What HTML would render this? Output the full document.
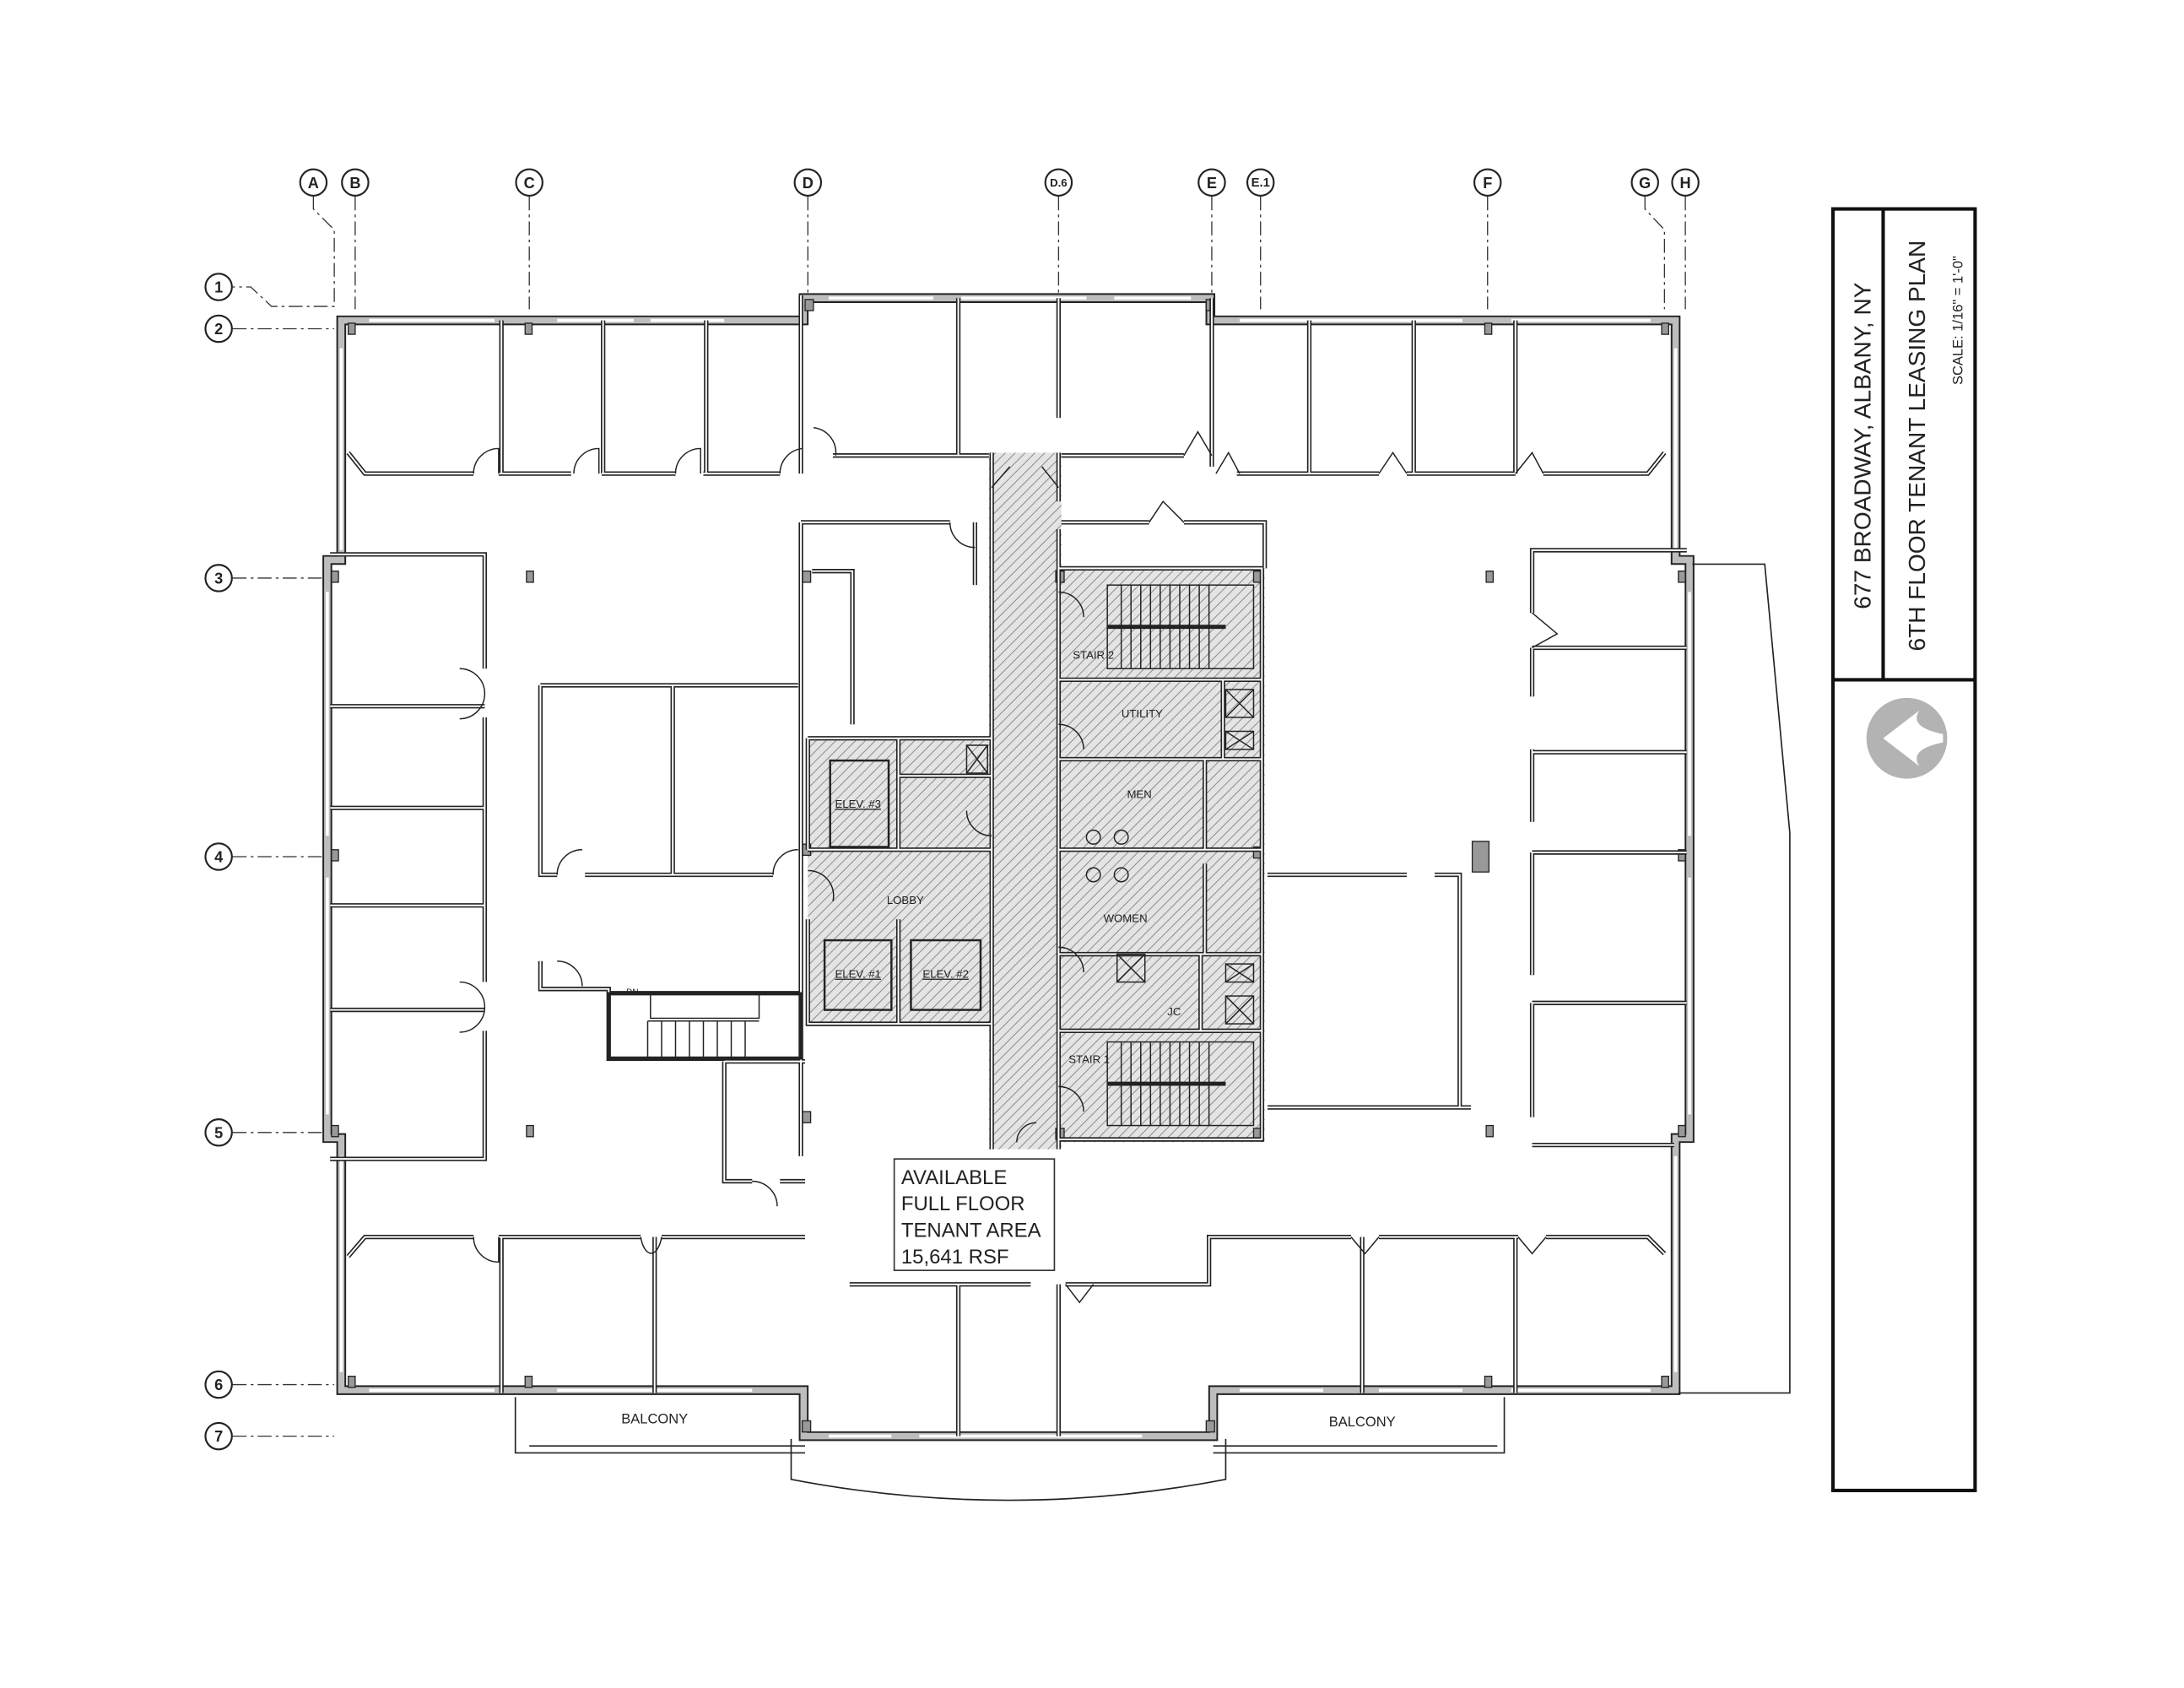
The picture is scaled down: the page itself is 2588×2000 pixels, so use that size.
<!DOCTYPE html>
<html><head><meta charset="utf-8"><style>
html,body{margin:0;padding:0;background:#fff}
svg{display:block}
text{font-family:"Liberation Sans",sans-serif;fill:#222}
</style></head><body>
<svg width="2588" height="2000" viewBox="0 0 1568 1211.8" preserveAspectRatio="none" xmlns="http://www.w3.org/2000/svg">
<defs>
<pattern id="h" patternUnits="userSpaceOnUse" width="5" height="5" patternTransform="rotate(45)">
<rect width="5" height="5" fill="#e4e4e4"/><line x1="0" y1="0" x2="0" y2="5" stroke="#8a8a8a" stroke-width="1.2"/>
</pattern>
</defs>
<rect width="1568" height="1212" fill="#fff"/>

<g fill="url(#h)" stroke="none">
<rect x="710" y="325" width="52" height="500"/>
<rect x="758" y="408" width="150" height="412"/>
<rect x="580" y="530" width="132" height="205"/>
</g>

<g stroke="#333" stroke-width="0.8" stroke-dasharray="10,3,2,3" fill="none">
<path d="M225,141 V150 L240,165 V220 H195 L180,206 H167"/>
<line x1="255" y1="141" x2="255" y2="222"/>
<line x1="380" y1="141" x2="380" y2="222"/>
<line x1="580" y1="141" x2="580" y2="210"/>
<line x1="760" y1="141" x2="760" y2="300"/>
<line x1="870" y1="141" x2="870" y2="210"/>
<line x1="905" y1="141" x2="905" y2="222"/>
<line x1="1068" y1="141" x2="1068" y2="222"/>
<path d="M1181,141 V150 L1195,165 V222"/>
<line x1="1210" y1="141" x2="1210" y2="222"/>
<line x1="167" y1="236" x2="240" y2="236"/>
<line x1="167" y1="415" x2="232" y2="415"/>
<line x1="167" y1="615" x2="232" y2="615"/>
<line x1="167" y1="813" x2="232" y2="813"/>
<line x1="167" y1="994" x2="240" y2="994"/>
<line x1="167" y1="1031" x2="240" y2="1031"/>
</g>
<g fill="#fff" stroke="#222" stroke-width="1.3">
<circle cx="225" cy="131" r="9.5"/><circle cx="255" cy="131" r="9.5"/><circle cx="380" cy="131" r="9.5"/>
<circle cx="580" cy="131" r="9.5"/><circle cx="760" cy="131" r="9.5"/><circle cx="870" cy="131" r="9.5"/>
<circle cx="905" cy="131" r="9.5"/><circle cx="1068" cy="131" r="9.5"/><circle cx="1181" cy="131" r="9.5"/>
<circle cx="1210" cy="131" r="9.5"/>
<circle cx="157" cy="206" r="9.5"/><circle cx="157" cy="236" r="9.5"/><circle cx="157" cy="415" r="9.5"/>
<circle cx="157" cy="615" r="9.5"/><circle cx="157" cy="813" r="9.5"/><circle cx="157" cy="994" r="9.5"/>
<circle cx="157" cy="1031" r="9.5"/>
</g>
<g font-size="11" font-weight="bold" text-anchor="middle">
<text x="225" y="135">A</text><text x="255" y="135">B</text><text x="380" y="135">C</text>
<text x="580" y="135">D</text><text x="760" y="134" font-size="8">D.6</text><text x="870" y="135">E</text>
<text x="905" y="134" font-size="9">E.1</text><text x="1068" y="135">F</text><text x="1181" y="135">G</text>
<text x="1210" y="135">H</text>
<text x="157" y="210">1</text><text x="157" y="240">2</text><text x="157" y="419">3</text>
<text x="157" y="619">4</text><text x="157" y="817">5</text><text x="157" y="998">6</text><text x="157" y="1035">7</text>
</g>

<path d="M245,230 H577 V214 H869 V230 H1203 V402 H1213 V817 H1203 V998 H871 V1031 H577 V998 H245 V817 H235 V402 H245 Z" fill="none" stroke="#222" stroke-width="7" stroke-linejoin="miter"/>
<path d="M245,230 H577 V214 H869 V230 H1203 V402 H1213 V817 H1203 V998 H871 V1031 H577 V998 H245 V817 H235 V402 H245 Z" fill="none" stroke="#bdbdbd" stroke-width="4.6"/>
<g stroke="#fff" stroke-width="2.2" fill="none">
<line x1="265" y1="230" x2="355" y2="230"/><line x1="400" y1="230" x2="455" y2="230"/><line x1="467" y1="230" x2="520" y2="230"/>
<line x1="595" y1="214" x2="670" y2="214"/><line x1="690" y1="214" x2="780" y2="214"/><line x1="800" y1="214" x2="855" y2="214"/>
<line x1="890" y1="230" x2="1050" y2="230"/><line x1="1085" y1="230" x2="1185" y2="230"/>
<line x1="245" y1="250" x2="245" y2="395"/><line x1="235" y1="425" x2="235" y2="600"/><line x1="235" y1="630" x2="235" y2="800"/>
<line x1="245" y1="830" x2="245" y2="985"/>
<line x1="1203" y1="250" x2="1203" y2="395"/><line x1="1213" y1="425" x2="1213" y2="600"/><line x1="1213" y1="630" x2="1213" y2="800"/>
<line x1="1203" y1="830" x2="1203" y2="985"/>
<line x1="265" y1="998" x2="355" y2="998"/><line x1="400" y1="998" x2="540" y2="998"/>
<line x1="595" y1="1031" x2="640" y2="1031"/><line x1="660" y1="1031" x2="820" y2="1031"/>
<line x1="890" y1="998" x2="950" y2="998"/><line x1="990" y1="998" x2="1050" y2="998"/><line x1="1085" y1="998" x2="1185" y2="998"/>
</g>
<g fill="#999" stroke="#222" stroke-width="0.8">
<rect x="250" y="232" width="5" height="8"/><rect x="377" y="232" width="5" height="8"/><rect x="578" y="215" width="6" height="8"/>
<rect x="866" y="215" width="6" height="8"/><rect x="1066" y="232" width="5" height="8"/><rect x="1193" y="232" width="5" height="8"/>
<rect x="238" y="410" width="5" height="8"/><rect x="378" y="410" width="5" height="8"/><rect x="1067" y="410" width="5" height="8"/><rect x="1205" y="410" width="5" height="8"/>
<rect x="238" y="610" width="5" height="8"/><rect x="576" y="606" width="6" height="8"/><rect x="1205" y="610" width="5" height="8"/>
<rect x="238" y="808" width="5" height="8"/><rect x="378" y="808" width="5" height="8"/><rect x="576" y="798" width="6" height="8"/><rect x="1067" y="808" width="5" height="8"/><rect x="1205" y="808" width="5" height="8"/>
<rect x="250" y="988" width="5" height="8"/><rect x="377" y="988" width="5" height="8"/><rect x="576" y="1020" width="6" height="8"/><rect x="866" y="1020" width="6" height="8"/><rect x="1066" y="988" width="5" height="8"/><rect x="1193" y="988" width="5" height="8"/>
<rect x="576" y="410" width="6" height="8"/><rect x="758" y="410" width="6" height="8"/><rect x="900" y="410" width="6" height="8"/>
<rect x="758" y="810" width="6" height="8"/><rect x="900" y="810" width="6" height="8"/><rect x="900" y="608" width="6" height="8"/>
<rect x="1057" y="604" width="12" height="22"/>
</g>

<g fill="none" stroke="#222" stroke-width="3.2">
<path d="M250,325 L262,340 H340 M358,340 H410 M432,340 H485 M505,340 H560 M575,340 V212"/>
<path d="M360,230 V340 M433,230 V340 M507,230 V340"/>
<path d="M598,327 H710 M762,327 H850 M688,214 V327 M760,214 V300"/>
<path d="M870,214 V335 M888,340 H990 M1010,340 H1088 M1108,340 H1183 L1195,325"/>
<path d="M940,230 V340 M1015,230 V340 M1088,230 V340"/>
<path d="M237,398 H348 V480 M348,515 V705 M348,740 V832 H237"/>
<path d="M237,507 H348 M237,580 H348 M237,650 H348 M237,725 H348"/>
<path d="M1211,395 H1100 V440 M1100,465 V500 M1100,538 V590 M1100,612 V700 M1100,720 V802 M1100,822 H1202"/>
<path d="M1100,465 H1211 M1100,540 H1211 M1100,612 H1211 M1100,720 H1211"/>
<path d="M250,902 L262,888 H340 M358,888 H460 M475,888 H578 M360,888 V1000 M470,888 V1000"/>
<path d="M610,922 H740 M765,922 H868 V888 H970 M990,888 H1090 M1110,888 H1183 L1195,900"/>
<path d="M688,922 V1031 M760,922 V1031 M978,888 V1000 M1088,888 V1000"/>
<path d="M575,375 H682 M700,375 V420 M575,375 V830 M583,410 H612 V520"/>
<path d="M388,492 H573 M388,492 V628 H400 M420,628 H555 M483,492 V628"/>
<path d="M388,690 V710 H437 V760 H575 V713 H437 M520,762 V848 H540 M560,848 H578 M520,762 H578"/>
<path d="M762,375 H825 M850,375 H908 V408"/>
<path d="M910,628 H1010 M1030,628 H1048 V795 H910 M1048,795 H1056"/>
<path d="M712,325 V825 M760,325 V360 M760,380 V825"/>
<path d="M760,408 H906 V818 H760 M760,488 H906 M760,545 H906 M760,610 H906 M760,685 H906 M760,740 H906 M878,488 V545 M865,545 V610 M865,620 V685 M862,685 V740"/>
<path d="M580,530 H712 M580,610 H712 M580,660 V735 H712 M580,530 V610 M645,530 V610 M645,660 V735 M645,557 H712"/>
</g>
<g fill="none" stroke="#fff" stroke-width="1.2">
<path d="M250,325 L262,340 H340 M358,340 H410 M432,340 H485 M505,340 H560 M575,340 V212"/>
<path d="M360,230 V340 M433,230 V340 M507,230 V340"/>
<path d="M598,327 H710 M762,327 H850 M688,214 V327 M760,214 V300"/>
<path d="M870,214 V335 M888,340 H990 M1010,340 H1088 M1108,340 H1183 L1195,325"/>
<path d="M940,230 V340 M1015,230 V340 M1088,230 V340"/>
<path d="M237,398 H348 V480 M348,515 V705 M348,740 V832 H237"/>
<path d="M237,507 H348 M237,580 H348 M237,650 H348 M237,725 H348"/>
<path d="M1211,395 H1100 V440 M1100,465 V500 M1100,538 V590 M1100,612 V700 M1100,720 V802 M1100,822 H1202"/>
<path d="M1100,465 H1211 M1100,540 H1211 M1100,612 H1211 M1100,720 H1211"/>
<path d="M250,902 L262,888 H340 M358,888 H460 M475,888 H578 M360,888 V1000 M470,888 V1000"/>
<path d="M610,922 H740 M765,922 H868 V888 H970 M990,888 H1090 M1110,888 H1183 L1195,900"/>
<path d="M688,922 V1031 M760,922 V1031 M978,888 V1000 M1088,888 V1000"/>
<path d="M575,375 H682 M700,375 V420 M575,375 V830 M583,410 H612 V520"/>
<path d="M388,492 H573 M388,492 V628 H400 M420,628 H555 M483,492 V628"/>
<path d="M388,690 V710 H437 V760 H575 V713 H437 M520,762 V848 H540 M560,848 H578 M520,762 H578"/>
<path d="M762,375 H825 M850,375 H908 V408"/>
<path d="M910,628 H1010 M1030,628 H1048 V795 H910 M1048,795 H1056"/>
<path d="M712,325 V825 M760,325 V360 M760,380 V825"/>
<path d="M760,408 H906 V818 H760 M760,488 H906 M760,545 H906 M760,610 H906 M760,685 H906 M760,740 H906 M878,488 V545 M865,545 V610 M865,620 V685 M862,685 V740"/>
<path d="M580,530 H712 M580,610 H712 M580,660 V735 H712 M580,530 V610 M645,530 V610 M645,660 V735 M645,557 H712"/>
</g>

<g fill="none" stroke="#222" stroke-width="0.9">
<path d="M340,340 a18,18 0 0 1 18,-18 v18"/><path d="M485,340 a18,18 0 0 1 18,-18 v18"/>
<path d="M412,340 a18,18 0 0 1 18,-18 v18"/><path d="M560,340 a18,18 0 0 1 16,-18"/>
<path d="M584,307 a18,18 0 0 1 16,20"/><path d="M850,327 L860,310 L870,327"/>
<path d="M873,340 L882,325 L890,340"/><path d="M990,340 L1000,325 L1010,340"/><path d="M1088,340 L1100,325 L1108,340"/>
<path d="M330,480 a18,18 0 0 1 18,18 a18,18 0 0 1 -18,18"/><path d="M330,705 a18,18 0 0 1 18,18 a18,18 0 0 1 -18,18"/>
<path d="M1100,440 L1118,455 L1100,465"/>
<path d="M340,888 a18,18 0 0 0 18,18 v-18"/><path d="M460,888 a8,18 0 0 0 15,0"/>
<path d="M400,628 a18,18 0 0 1 18,-18"/><path d="M555,628 a18,18 0 0 1 18,-18"/>
<path d="M682,375 a18,18 0 0 0 18,18"/><path d="M825,375 L835,360 L850,375"/>
<path d="M970,888 L980,900 L990,888"/><path d="M1090,888 L1100,900 L1110,888"/>
<path d="M765,922 L775,935 L785,922"/><path d="M400,690 a18,18 0 0 1 18,18"/>
<path d="M540,848 a18,18 0 0 1 18,18"/><path d="M580,625 a18,18 0 0 1 18,22"/>
<path d="M712,350 L725,335 M760,350 L748,335"/><path d="M712,600 a18,18 0 0 1 -18,-18"/>
<path d="M760,425 a18,18 0 0 1 18,18"/><path d="M760,520 a18,18 0 0 1 18,18"/>
<path d="M760,680 a18,18 0 0 1 18,18"/><path d="M760,780 a18,18 0 0 1 18,18"/>
<path d="M730,820 a14,14 0 0 1 14,-14"/>
</g>
<g stroke="#222" stroke-width="0.9" fill="none">
<rect x="795" y="420" width="105" height="60"/><line x1="795" y1="450" x2="880" y2="450" stroke-width="3"/>
<path d="M805,420 V480 M812,420 V480 M819,420 V480 M826,420 V480 M833,420 V480 M840,420 V480 M847,420 V480 M854,420 V480 M861,420 V480 M868,420 V480"/>
<rect x="795" y="748" width="105" height="60"/><line x1="795" y1="778" x2="880" y2="778" stroke-width="3"/>
<path d="M805,748 V808 M812,748 V808 M819,748 V808 M826,748 V808 M833,748 V808 M840,748 V808 M847,748 V808 M854,748 V808 M861,748 V808 M868,748 V808"/>
<rect x="437" y="713" width="138" height="47" stroke-width="1.5"/>
<path d="M465,733 V760 M475,733 V760 M485,733 V760 M495,733 V760 M505,733 V760 M515,733 V760 M525,733 V760 M535,733 V760 M465,733 H545"/>
<rect x="467" y="713" width="78" height="18"/>
<rect x="596" y="546" width="42" height="62" stroke-width="1.5"/>
<rect x="592" y="675" width="48" height="50" stroke-width="1.5"/>
<rect x="654" y="675" width="50" height="50" stroke-width="1.5"/>
<rect x="694" y="535" width="15" height="20"/><path d="M694,535 L709,555 M709,535 L694,555"/>
<rect x="880" y="495" width="20" height="20"/><path d="M880,495 L900,515 M900,495 L880,515"/>
<rect x="880" y="525" width="20" height="13"/><path d="M880,525 L900,538 M900,525 L880,538"/>
<rect x="880" y="692" width="20" height="13"/><path d="M880,692 L900,705 M900,692 L880,705"/>
<rect x="880" y="715" width="20" height="20"/><path d="M880,715 L900,735 M900,715 L880,735"/>
<rect x="802" y="685" width="20" height="20"/><path d="M802,685 L822,705 M822,685 L802,705"/>
<circle cx="785" cy="601" r="5"/><circle cx="805" cy="601" r="5"/><circle cx="785" cy="628" r="5"/><circle cx="805" cy="628" r="5"/>
</g>

<g fill="none" stroke="#222" stroke-width="1">
<path d="M370,1003 V1043 H578 M380,1038 H578"/>
<path d="M871,1038 H1075 M871,1043 H1080 V1003"/>
<path d="M568,1033 V1062 Q724,1092 880,1062 V1033"/>
<path d="M1215,405 H1267 L1285,598 V1000 H1205"/>
</g>

<g font-size="8" text-anchor="middle">
<text x="785" y="473">STAIR 2</text><text x="820" y="515">UTILITY</text><text x="818" y="573">MEN</text>
<text x="650" y="649">LOBBY</text><text x="808" y="662">WOMEN</text><text x="843" y="729">JC</text>
<text x="782" y="763">STAIR 1</text>
<text x="616" y="580" text-decoration="underline">ELEV. #3</text>
<text x="616" y="702" text-decoration="underline">ELEV. #1</text>
<text x="679" y="702" text-decoration="underline">ELEV. #2</text>
<text x="454" y="714" font-size="6">DN</text>
<text x="470" y="1022" font-size="10">BALCONY</text><text x="978" y="1024" font-size="10">BALCONY</text>
</g>
<rect x="642" y="832" width="115" height="80" fill="#fff" stroke="#333" stroke-width="1"/>
<g font-size="14.5"><text x="647" y="850">AVAILABLE</text><text x="647" y="869">FULL FLOOR</text>
<text x="647" y="888">TENANT AREA</text><text x="647" y="907">15,641 RSF</text></g>

<rect x="1316" y="150" width="102" height="920" fill="none" stroke="#111" stroke-width="2.5"/>
<line x1="1352" y1="150" x2="1352" y2="488" stroke="#111" stroke-width="2.5"/>
<line x1="1316" y1="488" x2="1418" y2="488" stroke="#111" stroke-width="2.5"/>
<text transform="translate(1343,320) rotate(-90)" font-size="17" text-anchor="middle">677 BROADWAY, ALBANY, NY</text>
<text transform="translate(1382,320) rotate(-90)" font-size="17" text-anchor="middle">6TH FLOOR TENANT LEASING PLAN</text>
<text transform="translate(1409,230) rotate(-90)" font-size="10" text-anchor="middle">SCALE: 1/16" = 1'-0"</text>
<circle cx="1369" cy="530" r="29" fill="#b3b3b3"/>
<path d="M1352,530 L1378,510 Q1370,522 1395,527 L1395,533 Q1370,538 1378,550 Z" fill="#fff"/>
</svg>
</body></html>
